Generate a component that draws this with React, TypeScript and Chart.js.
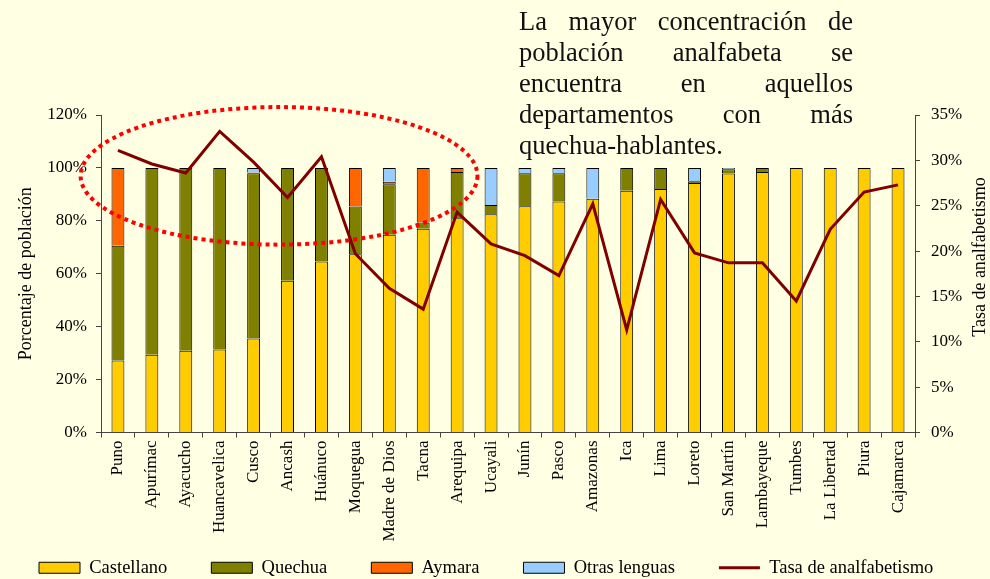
import React, { useEffect, useRef } from 'react';
import { Chart, registerables } from 'chart.js';

Chart.register(...registerables);

const categories = [
  'Puno', 'Apurímac', 'Ayacucho', 'Huancavelica', 'Cusco', 'Ancash', 'Huánuco', 'Moquegua',
  'Madre de Dios', 'Tacna', 'Arequipa', 'Ucayali', 'Junín', 'Pasco', 'Amazonas', 'Ica',
  'Lima', 'Loreto', 'San Martín', 'Lambayeque', 'Tumbes', 'La Libertad', 'Piura', 'Cajamarca',
];

const castellano = [27.2, 29.4, 30.9, 31.4, 35.5, 57.4, 64.6, 67.4, 74.7, 77.0, 81.0, 82.5, 85.5, 87.3, 88.3, 91.4, 92.0, 94.3, 97.9, 98.5, 100, 100, 100, 100];
const quechua = [43.4, 70.6, 69.1, 68.6, 62.5, 42.6, 35.4, 18.0, 19.1, 2.4, 17.5, 3.5, 12.5, 10.7, 0, 8.6, 8.0, 0.7, 1.6, 1.5, 0, 0, 0, 0];
const aymara = [29.4, 0, 0, 0, 0.3, 0, 0, 14.6, 1.0, 20.6, 1.5, 0, 0, 0, 0, 0, 0, 0, 0, 0, 0, 0, 0, 0];
const otras = [0, 0, 0, 0, 1.7, 0, 0, 0, 5.2, 0, 0, 14.0, 2.0, 2.0, 11.7, 0, 0, 5.0, 0.5, 0, 0, 0, 0, 0];
const tasa = [31.1, 29.6, 28.6, 33.2, 29.8, 25.9, 30.4, 19.7, 15.9, 13.6, 24.3, 20.8, 19.5, 17.3, 25.2, 11.3, 25.7, 19.8, 18.7, 18.7, 14.5, 22.4, 26.5, 27.3];

const leftTicks = { min: 0, max: 120, step: 20 };
const rightTicks = { min: 0, max: 35, step: 5 };

const noteLines = [
  'La mayor concentración de',
  'población analfabeta se',
  'encuentra en aquellos',
  'departamentos con más',
  'quechua-hablantes.',
];

const BG = '#FFFFE3';
const FAMILY = '"Liberation Serif", "Times New Roman", serif';
const AXIS = '#444444';

const decor = {
  id: 'decor',
  afterDraw(chart: any) {
    const c = chart.ctx;
    const xs = chart.scales.x;
    const ys = chart.scales.y;
    const step = xs.getPixelForValue(1) - xs.getPixelForValue(0);
    const cx = xs.getPixelForValue(4.75);
    const rx = step * 5.85;
    const cy = ys.getPixelForValue(97);
    const ry = ys.getPixelForValue(0) - ys.getPixelForValue(26);
    c.save();
    c.strokeStyle = '#FF0000';
    c.lineWidth = 4;
    c.setLineDash([4, 4]);
    c.beginPath();
    c.ellipse(cx, cy, rx, ry, 0, 0, Math.PI * 2);
    c.stroke();
    c.setLineDash([]);
    c.translate(chart.width - 10, 257);
    c.rotate(-Math.PI / 2);
    c.font = '18px ' + FAMILY;
    c.fillStyle = '#000';
    c.textAlign = 'center';
    c.textBaseline = 'middle';
    c.fillText('Tasa de analfabetismo', 0, 0);
    c.restore();
  },
};

export default function App() {
  const ref = useRef<HTMLCanvasElement>(null);

  useEffect(() => {
    document.body.style.margin = '0';
    document.body.style.overflow = 'hidden';
    const font = { family: FAMILY, size: 17 };
    const barCommon = {
      type: 'bar' as const,
      borderColor: '#000000',
      borderWidth: 1,
      stack: 's',
      yAxisID: 'y',
      barPercentage: 0.38,
      categoryPercentage: 1,
    };
    const chart = new Chart(ref.current!, {
      type: 'bar',
      data: {
        labels: categories,
        datasets: [
          {
            type: 'line',
            label: 'Tasa de analfabetismo',
            data: tasa,
            yAxisID: 'y1',
            borderColor: '#800000',
            backgroundColor: '#800000',
            borderWidth: 3,
            pointRadius: 0,
            tension: 0,
          } as any,
          { ...barCommon, label: 'Castellano', data: castellano, backgroundColor: '#FFCC00' },
          { ...barCommon, label: 'Quechua', data: quechua, backgroundColor: '#808000' },
          { ...barCommon, label: 'Aymara', data: aymara, backgroundColor: '#FF6600' },
          { ...barCommon, label: 'Otras lenguas', data: otras, backgroundColor: '#99CCFF' },
        ],
      },
      options: {
        animation: false,
        responsive: true,
        maintainAspectRatio: false,
        layout: { padding: { top: 115, left: -5, right: 0, bottom: -8 } },
        plugins: {
          tooltip: { enabled: false },
          legend: {
            position: 'bottom',
            align: 'start',
            labels: {
              usePointStyle: true,
              pointStyleWidth: 41,
              boxWidth: 41,
              boxHeight: 11,
              padding: 44,
              color: '#000',
              font: { family: FAMILY, size: 18.5 },
              generateLabels: (ch: any) => {
                const items = Chart.defaults.plugins.legend.labels.generateLabels(ch);
                items.forEach((it: any) => {
                  const ds: any = ch.data.datasets[it.datasetIndex];
                  it.pointStyle = ds.type === 'line' ? 'line' : 'rect';
                });
                items.sort((a: any, b: any) => {
                  const ka = ch.data.datasets[a.datasetIndex].type === 'line' ? 1 : 0;
                  const kb = ch.data.datasets[b.datasetIndex].type === 'line' ? 1 : 0;
                  return ka - kb || a.datasetIndex - b.datasetIndex;
                });
                return items;
              },
            },
          },
        },
        scales: {
          x: {
            stacked: true,
            offset: true,
            grid: { offset: true, drawOnChartArea: false, drawTicks: true, tickLength: 5, color: AXIS },
            border: { display: true, color: AXIS, width: 1 },
            ticks: { autoSkip: false, minRotation: 90, maxRotation: 90, font, color: '#000', padding: 3 },
            afterFit: (s: any) => {
              s.height = 82;
              s._computeLabelArea = () => undefined;
            },
          },
          y: {
            stacked: true,
            position: 'left',
            min: leftTicks.min,
            max: leftTicks.max,
            grid: { drawOnChartArea: false, drawTicks: true, tickLength: 5, color: AXIS },
            border: { display: true, color: AXIS, width: 1 },
            ticks: { stepSize: leftTicks.step, font, color: '#000', padding: 9, callback: (v: any) => v + '%' },
            title: {
              display: true,
              text: 'Porcentaje de población',
              color: '#000',
              font: { family: FAMILY, size: 18 },
              padding: { top: 20, bottom: 0 },
            },
            afterFit: (s: any) => { s.width = 106; },
          },
          y1: {
            position: 'right',
            stacked: false,
            min: rightTicks.min,
            max: rightTicks.max,
            grid: { drawOnChartArea: false, drawTicks: true, tickLength: 5, color: AXIS },
            border: { display: true, color: AXIS, width: 1 },
            ticks: { stepSize: rightTicks.step, font, color: '#000', padding: 11, callback: (v: any) => v + '%' },
            afterFit: (s: any) => { s.width = 75; },
          },
        },
      },
      plugins: [decor],
    });
    return () => chart.destroy();
  }, []);

  return (
    <div style={{ position: 'absolute', left: 0, top: 0, width: 990, height: 579, background: BG, overflow: 'hidden' }}>
      <div style={{ position: 'absolute', left: 0, top: 0, width: 990, height: 579 }}>
        <canvas ref={ref} />
      </div>
      <div
        style={{
          position: 'absolute',
          left: 519,
          top: 6,
          width: 334,
          fontFamily: FAMILY,
          fontSize: 26.5,
          lineHeight: '31px',
          color: '#111',
        }}
      >
        {noteLines.map((l, i) => (
          <div
            key={i}
            style={{
              textAlign: 'justify',
              textAlignLast: i < noteLines.length - 1 ? 'justify' : 'left',
            } as any}
          >
            {l}
          </div>
        ))}
      </div>
    </div>
  );
}
